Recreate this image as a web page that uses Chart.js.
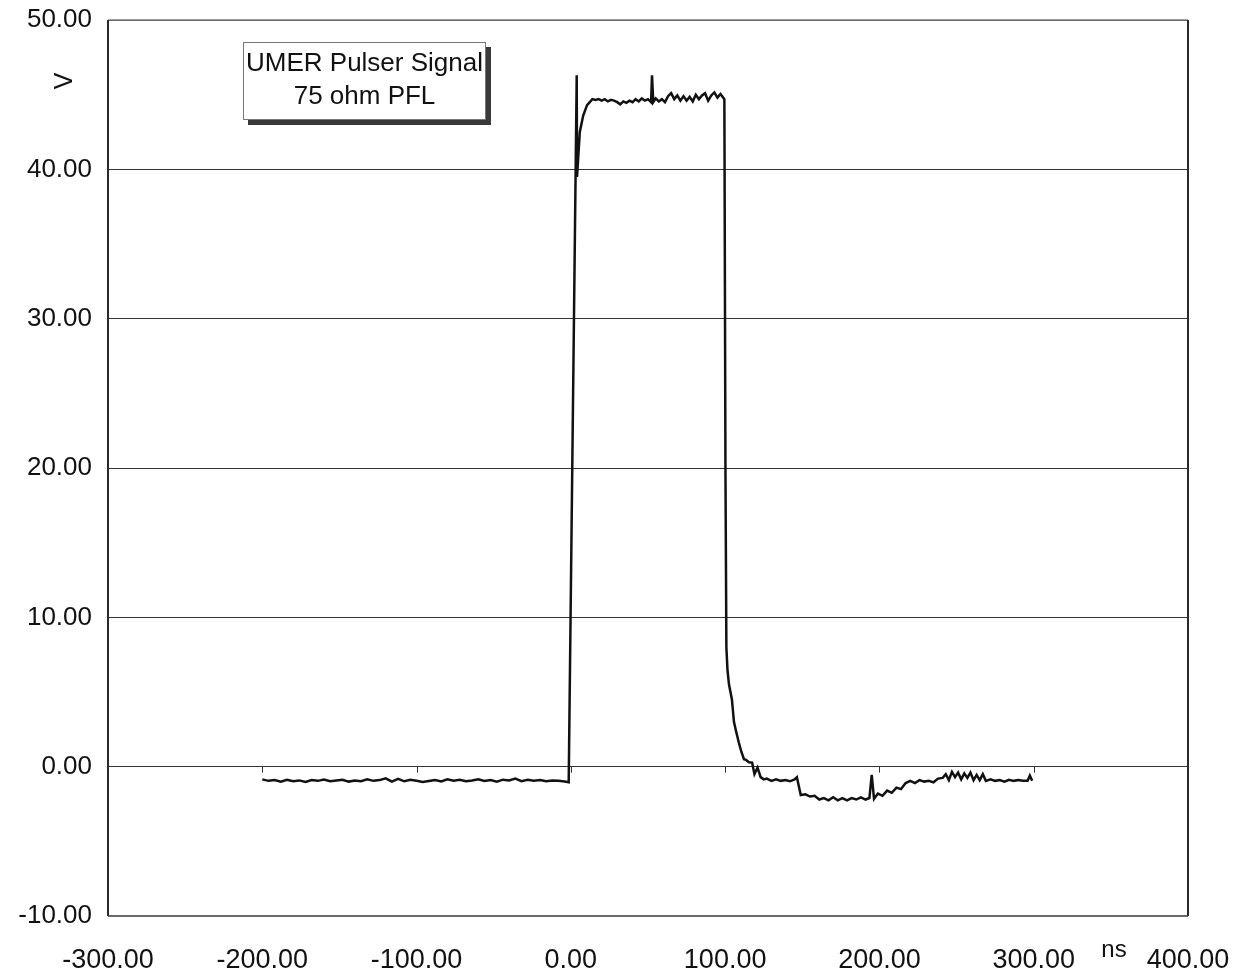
<!DOCTYPE html>
<html>
<head>
<meta charset="utf-8">
<title>UMER Pulser Signal</title>
<script src="https://cdn.jsdelivr.net/npm/chart.js@4/dist/chart.umd.min.js"></script>
<style>
  html, body { margin: 0; padding: 0; background: #fff; }
  #wrap { width: 1246px; height: 978px; position: relative; }
</style>
</head>
<body>
<div id="wrap"><canvas id="pulseChart"></canvas></div>
<script>
// Scope capture of the pulser output, time in ns, amplitude in V
const baselineNs = [
  -200, -196, -192, -188, -184, -180, -176, -172, -168, -164,
  -160, -156, -152, -148, -144, -140, -136, -132, -128, -124,
  -120, -116, -112, -108, -104, -100, -96, -92, -88, -84,
  -80, -76, -72, -68, -64, -60, -56, -52, -48, -44,
  -40, -36, -32, -28, -24, -20, -16, -12, -8, -4, -1.4
];
const baselineV = [
  -0.85, -0.95, -0.90, -1.00, -0.88, -0.97, -0.92, -1.02, -0.90, -0.95,
  -0.86, -0.98, -0.93, -0.88, -1.00, -0.92, -0.97, -0.85, -0.95, -0.90,
  -0.78, -1.00, -0.82, -0.98, -0.88, -0.95, -1.02, -0.96, -0.90, -0.99,
  -0.84, -0.94, -0.88, -0.97, -0.92, -0.85, -0.96, -0.90, -1.00, -0.87,
  -0.93, -0.80, -0.97, -0.88, -0.94, -0.90, -0.98, -0.92, -0.95, -1.00, -1.05
];

const riseNs = [3.8, 4.0, 5.8, 8.0, 10.5];
const riseV  = [46.3, 39.5, 42.5, 43.6, 44.3];

const flatTopNs = [
  14, 16, 18, 20, 22, 24, 26, 28, 30, 32,
  34, 36, 38, 40, 42, 44, 46, 48, 50, 52,
  52.6, 53.4, 55, 57, 59, 61, 63, 65, 67, 69,
  71, 73, 75, 77, 79, 81, 83, 85, 87, 89,
  91, 93, 95, 97, 99.5
];
const flatTopV = [
  44.70, 44.65, 44.70, 44.60, 44.70, 44.55, 44.65, 44.60, 44.50, 44.35,
  44.55, 44.45, 44.60, 44.50, 44.70, 44.55, 44.75, 44.60, 44.70, 44.50,
  46.30, 44.50, 44.75, 44.55, 44.70, 44.50, 44.90, 45.10, 44.70, 44.95,
  44.60, 44.90, 44.60, 44.85, 44.55, 45.00, 44.70, 44.95, 45.10, 44.60,
  44.95, 45.15, 44.80, 45.05, 44.70
];

const fallNs = [
  100.2, 100.8, 101.5, 102.5, 104.4, 105.7, 107, 108.9, 110.5, 112.2,
  113.5, 115.4, 117.5, 119, 121, 123, 125, 127, 130, 133,
  136, 139, 142, 145, 146.5, 149, 152, 155, 158, 161,
  164, 167, 170, 173, 176, 179, 182, 185, 188, 191,
  193.5, 195, 196.5, 199, 202, 205, 208, 211, 214, 217,
  220, 223, 226, 229, 232, 235, 238, 241, 243, 245,
  247, 249, 251, 253, 255, 257, 259, 261, 263, 265,
  267, 269, 272, 275, 278, 281, 284, 287, 290, 293,
  296, 297.5, 299
];
const fallV = [
  20.0, 8.0, 6.5, 5.5, 4.5, 3.0, 2.4, 1.6, 1.0, 0.5,
  0.45, 0.30, 0.27, -0.50, -0.07, -0.70, -0.85, -0.80, -0.95, -0.85,
  -0.95, -0.90, -0.98, -0.85, -0.70, -1.90, -1.85, -2.00, -1.95, -2.20,
  -2.10, -2.25, -2.05, -2.25, -2.10, -2.25, -2.10, -2.20, -2.05, -2.20,
  -2.10, -0.55, -2.15, -1.80, -1.95, -1.60, -1.75, -1.40, -1.50, -1.10,
  -0.95, -1.10, -0.90, -1.00, -0.95, -1.05, -0.80, -0.75, -0.50, -0.90,
  -0.35, -0.70, -0.40, -0.85, -0.45, -0.75, -0.40, -0.90, -0.55, -0.90,
  -0.50, -0.95, -0.85, -0.95, -0.90, -1.00, -0.88, -0.95, -0.90, -0.95,
  -0.95, -0.60, -0.95
];

const xTicksNs = [-300, -200, -100, 0, 100, 200, 300, 400];
const yTicksV = [-10, 0, 10, 20, 30, 40, 50];
const boxLines = ['UMER Pulser Signal', '75 ohm PFL'];
const xUnit = 'ns';
const yUnit = 'V';

const fontFamily = "'Liberation Sans', Arial, sans-serif";

const timeNs = [...baselineNs, ...riseNs, ...flatTopNs, ...fallNs];
const volts = [...baselineV, ...riseV, ...flatTopV, ...fallV];
const points = timeNs.map((t, i) => ({ x: t, y: volts[i] }));

// Frame, zero-axis ticks, caption box and unit labels
const decorations = {
  id: 'decorations',
  afterDatasetsDraw(chart) {
    const { ctx, chartArea: a, scales: { x, y } } = chart;
    ctx.save();

    // tick marks hanging below the 0 V line
    const y0 = y.getPixelForValue(0);
    ctx.strokeStyle = '#333';
    ctx.lineWidth = 1;
    xTicksNs.forEach(t => {
      const px = Math.round(x.getPixelForValue(t)) + 0.5;
      ctx.beginPath();
      ctx.moveTo(px, y0);
      ctx.lineTo(px, y0 + 6);
      ctx.stroke();
    });

    // plot frame
    ctx.strokeStyle = '#808080';
    ctx.lineWidth = 1.5;
    ctx.beginPath();
    ctx.moveTo(a.left, a.top);
    ctx.lineTo(a.right, a.top);
    ctx.stroke();
    ctx.strokeStyle = '#6a6a6a';
    ctx.lineWidth = 2;
    ctx.beginPath();
    ctx.moveTo(a.left, a.bottom);
    ctx.lineTo(a.right, a.bottom);
    ctx.stroke();
    ctx.strokeStyle = '#2a2a2a';
    ctx.beginPath();
    ctx.moveTo(a.left, a.top);
    ctx.lineTo(a.left, a.bottom);
    ctx.moveTo(a.right, a.top);
    ctx.lineTo(a.right, a.bottom);
    ctx.stroke();

    // caption box with drop shadow
    const bx = 243, by = 42, bw = 243, bh = 78;
    ctx.fillStyle = '#3a3a3a';
    ctx.fillRect(bx + 5, by + bh, bw, 5);
    ctx.fillRect(bx + bw, by + 5, 5, bh);
    ctx.fillStyle = '#fff';
    ctx.fillRect(bx, by, bw, bh);
    ctx.strokeStyle = '#777';
    ctx.lineWidth = 1;
    ctx.strokeRect(bx + 0.5, by + 0.5, bw - 1, bh - 1);
    ctx.fillStyle = '#111';
    ctx.font = '26px ' + fontFamily;
    ctx.textAlign = 'center';
    ctx.textBaseline = 'middle';
    ctx.fillText(boxLines[0], bx + bw / 2, 64);
    ctx.fillText(boxLines[1], bx + bw / 2, 97);

    // units
    ctx.font = '24px ' + fontFamily;
    ctx.fillText(xUnit, 1114, 950);
    ctx.save();
    ctx.translate(65, 81);
    ctx.rotate(-Math.PI / 2);
    ctx.font = '25px ' + fontFamily;
    ctx.fillText(yUnit, 0, 0);
    ctx.restore();

    ctx.restore();
  }
};

new Chart(document.getElementById('pulseChart').getContext('2d'), {
  type: 'line',
  data: {
    datasets: [{
      label: 'Pulser output',
      data: points,
      borderColor: '#111',
      borderWidth: 2.5,
      pointRadius: 0,
      tension: 0,
      fill: false
    }]
  },
  options: {
    responsive: true,
    maintainAspectRatio: false,
    animation: false,
    layout: { padding: { top: 20, right: 58, left: 0, bottom: 0 } },
    plugins: {
      legend: { display: false },
      tooltip: { enabled: false }
    },
    scales: {
      x: {
        type: 'linear',
        min: -300,
        max: 400,
        // fixed axis band; end labels may overhang the plot edges
        afterFit: s => { s.height = 62; s.paddingLeft = 0; s.paddingRight = 0; },
        afterBuildTicks: s => { s.ticks = xTicksNs.map(v => ({ value: v })); },
        grid: { display: false },
        border: { display: false },
        ticks: {
          padding: 20,
          color: '#111',
          font: { family: fontFamily, size: 27 },
          maxRotation: 0,
          callback: v => v.toFixed(2)
        }
      },
      y: {
        min: -10,
        max: 50,
        afterFit: s => { s.width = 108; s.paddingTop = 0; s.paddingBottom = 0; },
        afterBuildTicks: s => { s.ticks = yTicksV.map(v => ({ value: v })); },
        grid: { color: '#333', lineWidth: 1, drawTicks: false },
        border: { display: false },
        ticks: {
          padding: 16,
          color: '#111',
          font: { family: fontFamily, size: 26 },
          callback: v => v.toFixed(2)
        }
      }
    }
  },
  plugins: [decorations]
});
</script>
</body>
</html>
